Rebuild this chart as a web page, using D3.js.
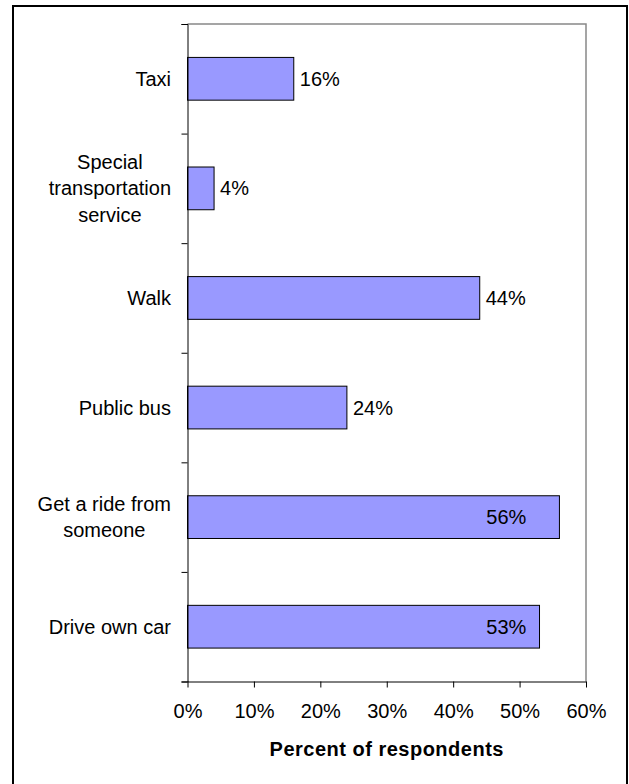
<!DOCTYPE html>
<html>
<head>
<meta charset="utf-8">
<script src="https://cdn.jsdelivr.net/npm/d3@7"></script>
<style>
  body { margin: 0; background: #fff; }
  text { font-family: "Liberation Sans", Arial, sans-serif; fill: #000; }
</style>
</head>
<body>
<div id="chart"></div>
<script>
// Data arrays (top to bottom as drawn)
let categories = [
  ["Taxi"],
  ["Special", "transportation", "service"],
  ["Walk"],
  ["Public bus"],
  ["Get a ride from", "someone"],
  ["Drive own car"]
];
let values = [16, 4, 44, 24, 56, 53];
let xTicks = [0, 10, 20, 30, 40, 50, 60];
let xTitle = "Percent of respondents";

// svg attributes
let svgWidth = 629;
let svgHeight = 784;
let plot = {left: 187.5, right: 586, top: 24, bottom: 681.5};

let svg = d3.select("#chart")
  .append("svg")
  .attr("width", svgWidth)
  .attr("height", svgHeight);

// outer chart border (runs off the bottom of the picture)
svg.append("rect")
  .attr("x", 13).attr("y", 6)
  .attr("width", 614).attr("height", 800)
  .attr("fill", "none")
  .attr("stroke", "#000")
  .attr("stroke-width", 2);

// scales
let xScale = d3.scaleLinear()
  .domain([0, 60])
  .range([plot.left, plot.right]);

let yScale = d3.scaleBand()
  .domain(d3.range(categories.length))
  .range([plot.top, plot.bottom])
  .paddingInner(0.61)
  .paddingOuter(0.305);

// band boundaries for the y ticks
let yEdge = d3.scaleLinear()
  .domain([0, categories.length])
  .range([plot.top, plot.bottom]);

// plot area frame (grey, top and right)
svg.append("path")
  .attr("d", `M${plot.left},${plot.top}H${plot.right}V${plot.bottom}`)
  .attr("fill", "none")
  .attr("stroke", "#888")
  .attr("stroke-width", 1.5);

// bars
svg.selectAll("rect.bar")
  .data(values)
  .enter()
  .append("rect")
  .attr("class", "bar")
  .attr("x", xScale(0))
  .attr("y", (d, i) => yScale(i))
  .attr("width", d => xScale(d) - xScale(0))
  .attr("height", yScale.bandwidth())
  .attr("fill", "#9999ff")
  .attr("stroke", "#000")
  .attr("stroke-width", 1);

// value labels: outside the bar, inside for the long ones
svg.selectAll("text.val")
  .data(values)
  .enter()
  .append("text")
  .attr("class", "val")
  .attr("x", d => d > 50 ? xScale(48) : xScale(d) + 6)
  .attr("y", (d, i) => yScale(i) + yScale.bandwidth() / 2)
  .attr("dy", "0.35em")
  .attr("text-anchor", d => d > 50 ? "middle" : "start")
  .style("font-size", "20px")
  .text(d => d + "%");

// y axis (ticks between categories, no labels)
svg.append("g")
  .attr("transform", `translate(${plot.left},0)`)
  .call(d3.axisLeft(yEdge).ticks(categories.length).tickSize(6).tickFormat(""))
  .call(g => g.selectAll("path, line").attr("stroke", "#000"));

// x axis
let xAxis = svg.append("g")
  .attr("transform", `translate(0,${plot.bottom})`)
  .call(d3.axisBottom(xScale).tickValues(xTicks).tickSize(6).tickSizeOuter(0).tickPadding(16)
    .tickFormat(d => d + "%"));
xAxis.selectAll("path, line").attr("stroke", "#000");
xAxis.selectAll("text")
  .style("font-size", "20px")
  .style("font-family", "'Liberation Sans', Arial, sans-serif")
  .attr("fill", "#000");

// category labels, multi-line blocks centred, block right edge next to the axis
let labelRight = plot.left - 16.5;
let lineH = 26.5;
categories.forEach((lines, i) => {
  let t = svg.append("text")
    .style("font-size", "20px")
    .attr("text-anchor", "middle");
  let cy = yScale(i) + yScale.bandwidth() / 2;
  lines.forEach((s, j) => {
    t.append("tspan")
      .attr("y", cy + (j - (lines.length - 1) / 2) * lineH)
      .attr("dy", "0.35em")
      .text(s);
  });
  let w = d3.max(t.selectAll("tspan").nodes(), n => n.getComputedTextLength());
  t.selectAll("tspan").attr("x", labelRight - w / 2);
});

// x axis title
svg.append("text")
  .attr("x", (plot.left + plot.right) / 2)
  .attr("y", 756)
  .attr("text-anchor", "middle")
  .style("font-size", "20px")
  .style("font-weight", "bold")
  .style("letter-spacing", "0.5px")
  .text(xTitle);
</script>
</body>
</html>
